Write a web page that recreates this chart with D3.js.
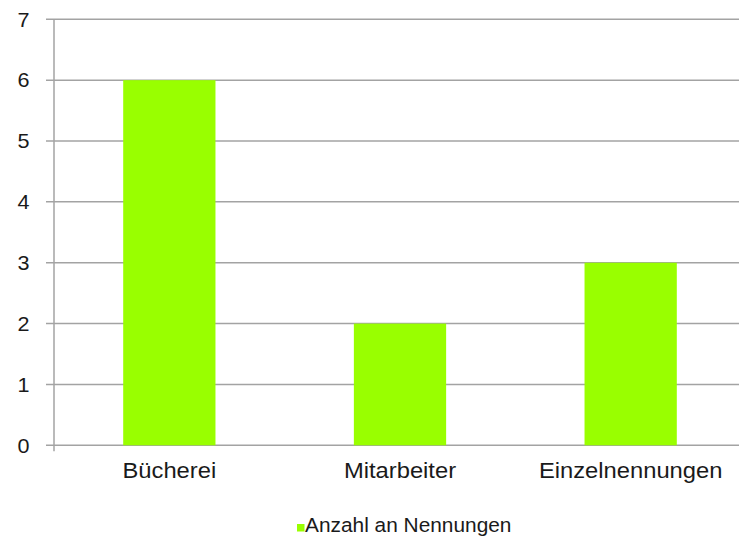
<!DOCTYPE html>
<html><head><meta charset="utf-8">
<script src="https://cdn.jsdelivr.net/npm/d3@7"></script>
<style>body{margin:0;background:#fff;}svg{display:block;font-family:"Liberation Sans",Arial,sans-serif;}</style>
</head><body>
<svg id="c" width="739" height="542"></svg>
<script>
const categories = ["Bücherei", "Mitarbeiter", "Einzelnennungen"];
const values = [6, 2, 3];
const seriesName = "Anzahl an Nennungen";
const yTicks = [0, 1, 2, 3, 4, 5, 6, 7];

const svg = d3.select("#c");
const mLeft = 54, mRight = 746, mTop = 19.3, mBottom = 445.3;
const x = d3.scaleBand().domain(categories).range([mLeft, mRight]).padding(0);
const y = d3.scaleLinear().domain([0, 7]).range([mBottom, mTop]);
const barColor = "#99ff00";
const gridColor = "#a3a3a3";
const textColor = "#1a1a1a";
const sx = 1.08;

// gridlines
svg.append("g").selectAll("line").data(yTicks).join("line")
  .attr("x1", mLeft - 8).attr("x2", 739)
  .attr("y1", d => y(d)).attr("y2", d => y(d))
  .attr("stroke", gridColor).attr("stroke-width", 1.5);

// bars
const bw = x.bandwidth() * 0.4;
svg.append("g").selectAll("rect").data(values).join("rect")
  .attr("x", (d, i) => x(categories[i]) + x.bandwidth() / 2 - bw / 2)
  .attr("width", bw)
  .attr("y", d => y(d))
  .attr("height", d => y(0) - y(d))
  .attr("fill", barColor);

// y axis line
svg.append("line").attr("x1", mLeft).attr("x2", mLeft).attr("y1", mTop).attr("y2", mBottom + 6)
  .attr("stroke", gridColor).attr("stroke-width", 1.5);

// y tick labels
svg.append("g").selectAll("text").data(yTicks).join("text")
  .attr("transform", d => `translate(23.4,${y(d)}) scale(${sx},1)`)
  .attr("dy", "0.36em")
  .attr("text-anchor", "middle").attr("font-size", 20).attr("fill", textColor)
  .text(d => d);

// category labels
svg.append("g").selectAll("text").data(categories).join("text")
  .attr("transform", d => `translate(${x(d) + x.bandwidth() / 2},478.3) scale(${sx},1)`)
  .attr("text-anchor", "middle").attr("font-size", 22).attr("fill", textColor)
  .text(d => d);

// legend
const lg = svg.append("g");
lg.append("rect").attr("x", 297).attr("y", 524).attr("width", 7.5).attr("height", 7.5).attr("fill", barColor);
lg.append("text").attr("transform", `translate(305,532.3) scale(1.07,1)`)
  .attr("font-size", 19.5).attr("fill", textColor).text(seriesName);
</script>
</body></html>
